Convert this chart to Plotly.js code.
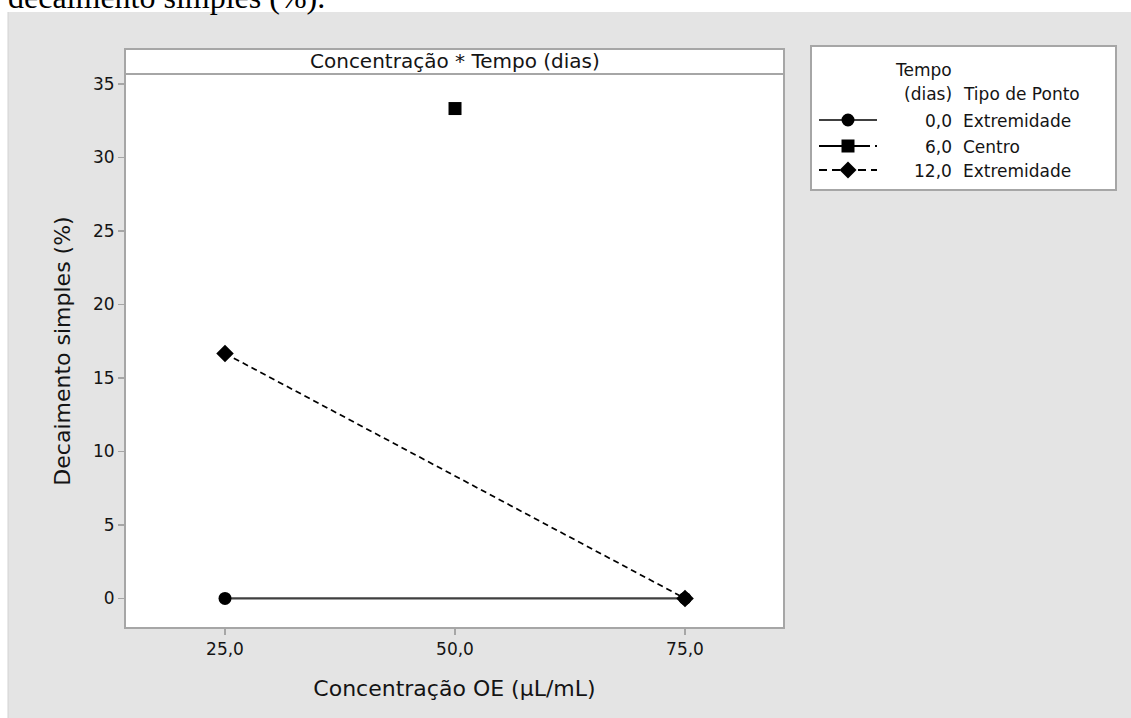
<!DOCTYPE html>
<html>
<head>
<meta charset="utf-8">
<script src="https://cdn.plot.ly/plotly-3.0.1.min.js"></script>
<style>
  html, body { margin: 0; padding: 0; background: #ffffff; }
  #chart { width: 1131px; height: 718px; }
</style>
</head>
<body>
<div id="chart"></div>
<script>
// Interaction plot: concentration x storage time
const concentracao = [25, 50, 75];
const tempo0 = { x: [25, 75], y: [0, 0] };          // 0,0 dias — Extremidade
const tempo6 = { x: [50], y: [33.33] };             // 6,0 dias — Centro
const tempo12 = { x: [25, 75], y: [16.67, 0] };     // 12,0 dias — Extremidade

const xTickVals = [25, 50, 75];
const yTickVals = [0, 5, 10, 15, 20, 25, 30, 35];

const legendTempo = ['0,0', '6,0', '12,0'];
const legendTipo = ['Extremidade', 'Centro', 'Extremidade'];

const stripTitle = 'Concentração * Tempo (dias)';
const xTitle = 'Concentração OE (µL/mL)';
const yTitle = 'Decaimento simples (%)';
const captionAbove = 'decaimento simples (%).';

// Figure geometry (pixels)
const W = 1131, H = 718;
const PL = 125, PR = 784, PT = 74, PB = 628;
const STRIP_TOP = 49;
const px = v => (v - PL) / (PR - PL);
const py = v => (PB - v) / (PB - PT);

const FONT = 'DejaVu Sans, Verdana, sans-serif';
const TXT = '#141414';
const FRAME = '#a6a6a6';

const traces = [
  {
    x: tempo0.x, y: tempo0.y, mode: 'lines+markers', name: '0,0',
    line: { color: '#404040', width: 2.2 },
    marker: { symbol: 'circle', size: 13, color: '#000000' },
    showlegend: false, hoverinfo: 'x+y'
  },
  {
    x: tempo6.x, y: tempo6.y, mode: 'lines+markers', name: '6,0',
    line: { color: '#000000', width: 2, dash: 'dashdot' },
    marker: { symbol: 'square', size: 13, color: '#000000' },
    showlegend: false, hoverinfo: 'x+y'
  },
  {
    x: tempo12.x, y: tempo12.y, mode: 'lines+markers', name: '12,0',
    line: { color: '#000000', width: 1.7, dash: '6px,4px' },
    marker: { symbol: 'diamond', size: 13.5, color: '#000000' },
    showlegend: false, hoverinfo: 'x+y'
  }
];

const shapes = [
  // white page margin above and left of the grey figure background
  { type: 'rect', xref: 'paper', yref: 'paper', layer: 'below',
    x0: px(0), x1: px(W), y0: py(12), y1: py(0),
    fillcolor: '#ffffff', line: { width: 0 } },
  { type: 'rect', xref: 'paper', yref: 'paper', layer: 'below',
    x0: px(0), x1: px(8), y0: py(H), y1: py(0),
    fillcolor: '#ffffff', line: { width: 0 } },
  { type: 'line', xref: 'paper', yref: 'paper', layer: 'below',
    x0: px(8), x1: px(8), y0: py(H), y1: py(12),
    line: { color: '#d2d2d2', width: 1 } },
  // panel strip
  { type: 'rect', xref: 'paper', yref: 'paper', layer: 'below',
    x0: 0, x1: 1, y0: 1, y1: py(STRIP_TOP),
    fillcolor: '#ffffff', line: { width: 0 } },
  // panel frame and strip divider
  { type: 'rect', xref: 'paper', yref: 'paper', layer: 'above',
    x0: 0, x1: 1, y0: 0, y1: py(STRIP_TOP),
    line: { color: FRAME, width: 2 } },
  { type: 'line', xref: 'paper', yref: 'paper', layer: 'above',
    x0: 0, x1: 1, y0: 1, y1: 1,
    line: { color: FRAME, width: 2 } },
  // legend box
  { type: 'rect', xref: 'paper', yref: 'paper', layer: 'below',
    x0: px(811), x1: px(1116), y0: py(190), y1: py(46),
    fillcolor: '#ffffff', line: { color: FRAME, width: 2 } }
];

// legend keys
const keyX0 = 819, keyX1 = 877, keyC = 848;
const rowY = [120, 146, 170];
const keyLine = [
  { color: '#404040', dash: 'solid' },
  { color: '#000000', dash: '51px,5px,2px,40px' },
  { color: '#000000', dash: '8px,5px' }
];
rowY.forEach((yy, i) => {
  shapes.push({ type: 'line', xref: 'paper', yref: 'paper',
    x0: px(keyX0), x1: px(keyX1), y0: py(yy), y1: py(yy),
    line: { color: keyLine[i].color, width: 2, dash: keyLine[i].dash } });
});
const r = 6.5;
shapes.push({ type: 'circle', xref: 'paper', yref: 'paper',
  x0: px(keyC - r), x1: px(keyC + r), y0: py(rowY[0] + r), y1: py(rowY[0] - r),
  fillcolor: '#000000', line: { width: 0 } });
shapes.push({ type: 'rect', xref: 'paper', yref: 'paper',
  x0: px(keyC - r), x1: px(keyC + r), y0: py(rowY[1] + r), y1: py(rowY[1] - r),
  fillcolor: '#000000', line: { width: 0 } });
const d = 8.5;
shapes.push({ type: 'path', xref: 'paper', yref: 'paper',
  path: `M ${px(keyC)} ${py(rowY[2] - d)} L ${px(keyC + d)} ${py(rowY[2])} ` +
        `L ${px(keyC)} ${py(rowY[2] + d)} L ${px(keyC - d)} ${py(rowY[2])} Z`,
  fillcolor: '#000000', line: { width: 0 } });

const ann = (text, x, y, xanchor, size, extra) => Object.assign({
  text, x: px(x), y: py(y), xref: 'paper', yref: 'paper',
  xanchor, yanchor: 'middle', showarrow: false, borderpad: 0,
  font: { family: FONT, size: size, color: TXT }
}, extra || {});

const annotations = [
  ann(stripTitle, (PL + PR) / 2, 61.5, 'center', 20),
  ann('Tempo', 894, 70, 'left', 17),
  ann('(dias)', 953, 94, 'right', 17),
  ann('Tipo de Ponto', 962, 94, 'left', 17),
  ann(captionAbove, 7, -3, 'left', 32,
      { font: { family: 'Liberation Serif, Times New Roman, serif', size: 32, color: '#000000' } })
];
rowY.forEach((yy, i) => {
  annotations.push(ann(legendTempo[i], 953, yy + 1, 'right', 17));
  annotations.push(ann(legendTipo[i], 962, yy + 1, 'left', 17));
});

const layout = {
  width: W, height: H,
  margin: { l: PL, r: W - PR, t: PT, b: H - PB, pad: 0 },
  paper_bgcolor: '#e4e4e4',
  plot_bgcolor: '#ffffff',
  separators: ',.',
  showlegend: false,
  font: { family: FONT, size: 17, color: TXT },
  xaxis: {
    range: [14.13, 85.76],
    tickvals: xTickVals, tickformat: '.1f',
    ticks: 'outside', ticklen: 6, tickwidth: 1.5, tickcolor: FRAME,
    showgrid: false, zeroline: false, showline: false,
    tickfont: { family: FONT, size: 17, color: TXT },
    title: { text: xTitle, font: { family: FONT, size: 22, color: TXT }, standoff: 22 }
  },
  yaxis: {
    range: [-2.01, 35.68],
    tickvals: yTickVals,
    ticks: 'outside', ticklen: 6, tickwidth: 1.5, tickcolor: FRAME,
    showgrid: false, zeroline: false, showline: false,
    tickfont: { family: FONT, size: 17, color: TXT },
    title: { text: yTitle, font: { family: FONT, size: 22, color: TXT }, standoff: 16 }
  },
  shapes, annotations
};

Plotly.newPlot('chart', traces, layout, { displayModeBar: false, staticPlot: true });
</script>
</body>
</html>
